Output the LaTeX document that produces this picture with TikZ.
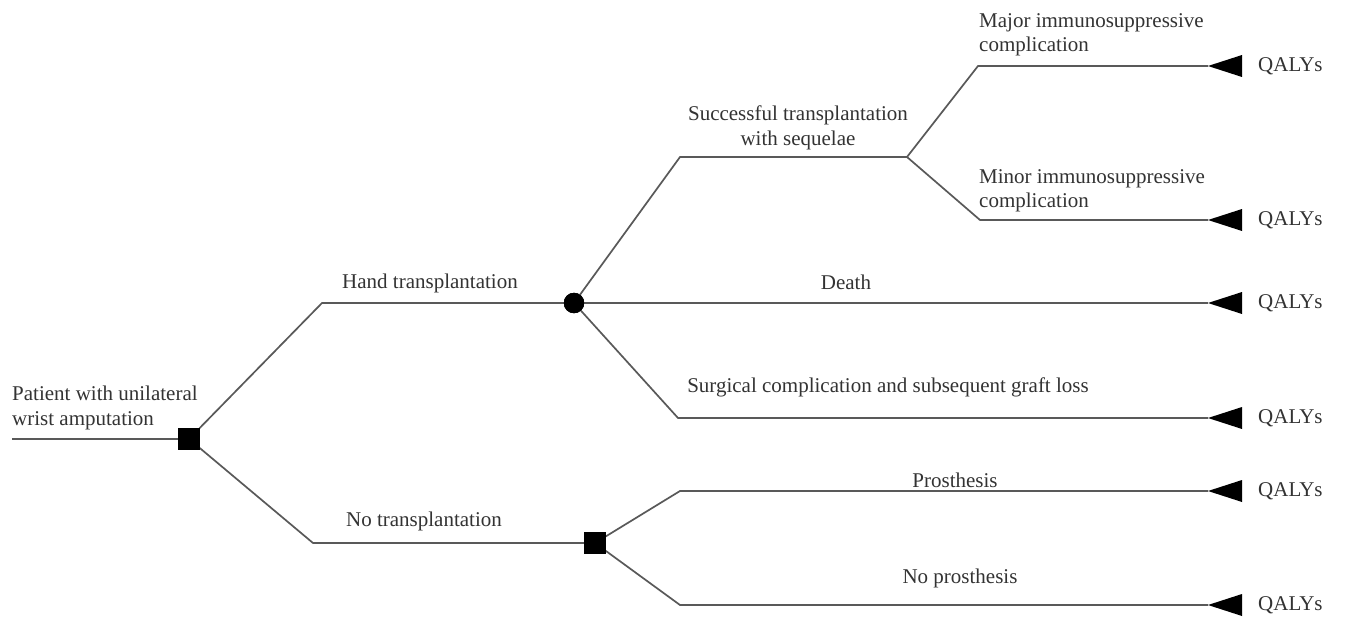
\documentclass[tikz,border=0pt]{standalone}
\usepackage{fontspec}
\setmainfont{Liberation Serif}
\begin{document}
\begin{tikzpicture}[x=1pt,y=-1pt,
  branch/.style={draw=black!65,line width=1.7pt},
  decision/.style={draw=black,fill=black,rectangle,minimum size=21pt,inner sep=0pt},
  chance/.style={draw=black,fill=black,circle,minimum size=20pt,inner sep=0pt},
  lbl/.style={font=\fontsize{21}{24.5}\selectfont,inner sep=0pt,text=black!80},
  term/.style={fill=black}
]
\fill[white] (0,0) rectangle (1347,618);
\useasboundingbox (0,0) rectangle (1347,618);

% nodes
\coordinate (start) at (12,439);
\node[decision] (d1) at (189,439) {};
\node[chance] (c1) at (574,303) {};
\node[decision] (d2) at (595,543) {};

% bends
\coordinate (bHand) at (322,303);
\coordinate (bNo) at (313,543);
\coordinate (bSucc) at (680,157);
\coordinate (sSucc) at (907,157);
\coordinate (bMaj) at (978,66);
\coordinate (bMin) at (980,220);
\coordinate (bSurg) at (678,418);
\coordinate (bPro) at (680,491);
\coordinate (bNoPro) at (680,605);

% terminal tips
\coordinate (tMaj) at (1208,66);
\coordinate (tMin) at (1208,220);
\coordinate (tDeath) at (1208,303);
\coordinate (tSurg) at (1208,418);
\coordinate (tPro) at (1208,491);
\coordinate (tNoPro) at (1208,605);

% connectors
\draw[branch] (start) -- (d1.west);
\draw[branch] (d1) -- (bHand) -- (c1);
\draw[branch] (d1) -- (bNo) -- (d2);
\draw[branch] (c1) -- (bSucc) -- (sSucc);
\draw[branch] (sSucc) -- (bMaj) -- (tMaj);
\draw[branch] (sSucc) -- (bMin) -- (tMin);
\draw[branch] (c1) -- (tDeath);
\draw[branch] (c1) -- (bSurg) -- (tSurg);
\draw[branch] (d2) -- (bPro) -- (tPro);
\draw[branch] (d2) -- (bNoPro) -- (tNoPro);
\node[decision] at (d1) {};
\node[chance] at (c1) {};
\node[decision] at (d2) {};

% terminal triangles
\foreach \t in {tMaj,tMin,tDeath,tSurg,tPro,tNoPro}{
  \fill[term] (\t) -- ++(34,-11) -- ++(0,22) -- cycle;
}

% labels
\node[lbl,anchor=west,align=left] (lRoot) at (12,408) {Patient with unilateral\\wrist amputation};
\node[lbl] (lHand) at (430,283) {Hand transplantation};
\node[lbl] (lNo) at (424,521) {No transplantation};
\node[lbl,align=center] (lSucc) at (798,128) {Successful transplantation\\with sequelae};
\node[lbl,anchor=west,align=left] (lMaj) at (979,35) {Major immunosuppressive\\complication};
\node[lbl,anchor=west,align=left] (lMin) at (979,191) {Minor immunosuppressive\\complication};
\node[lbl] (lDeath) at (846,282) {Death};
\node[lbl] (lSurg) at (888,387) {Surgical complication and subsequent graft loss};
\node[lbl] (lPro) at (955,480) {Prosthesis};
\node[lbl] (lNoPro) at (960,578) {No prosthesis};

\foreach \t/\n in {tMaj/q1,tMin/q2,tDeath/q3,tSurg/q4,tPro/q5,tNoPro/q6}{
  \node[lbl,anchor=west] (\n) at ([xshift=50pt]\t) {QALYs};
}
\end{tikzpicture}
\end{document}
